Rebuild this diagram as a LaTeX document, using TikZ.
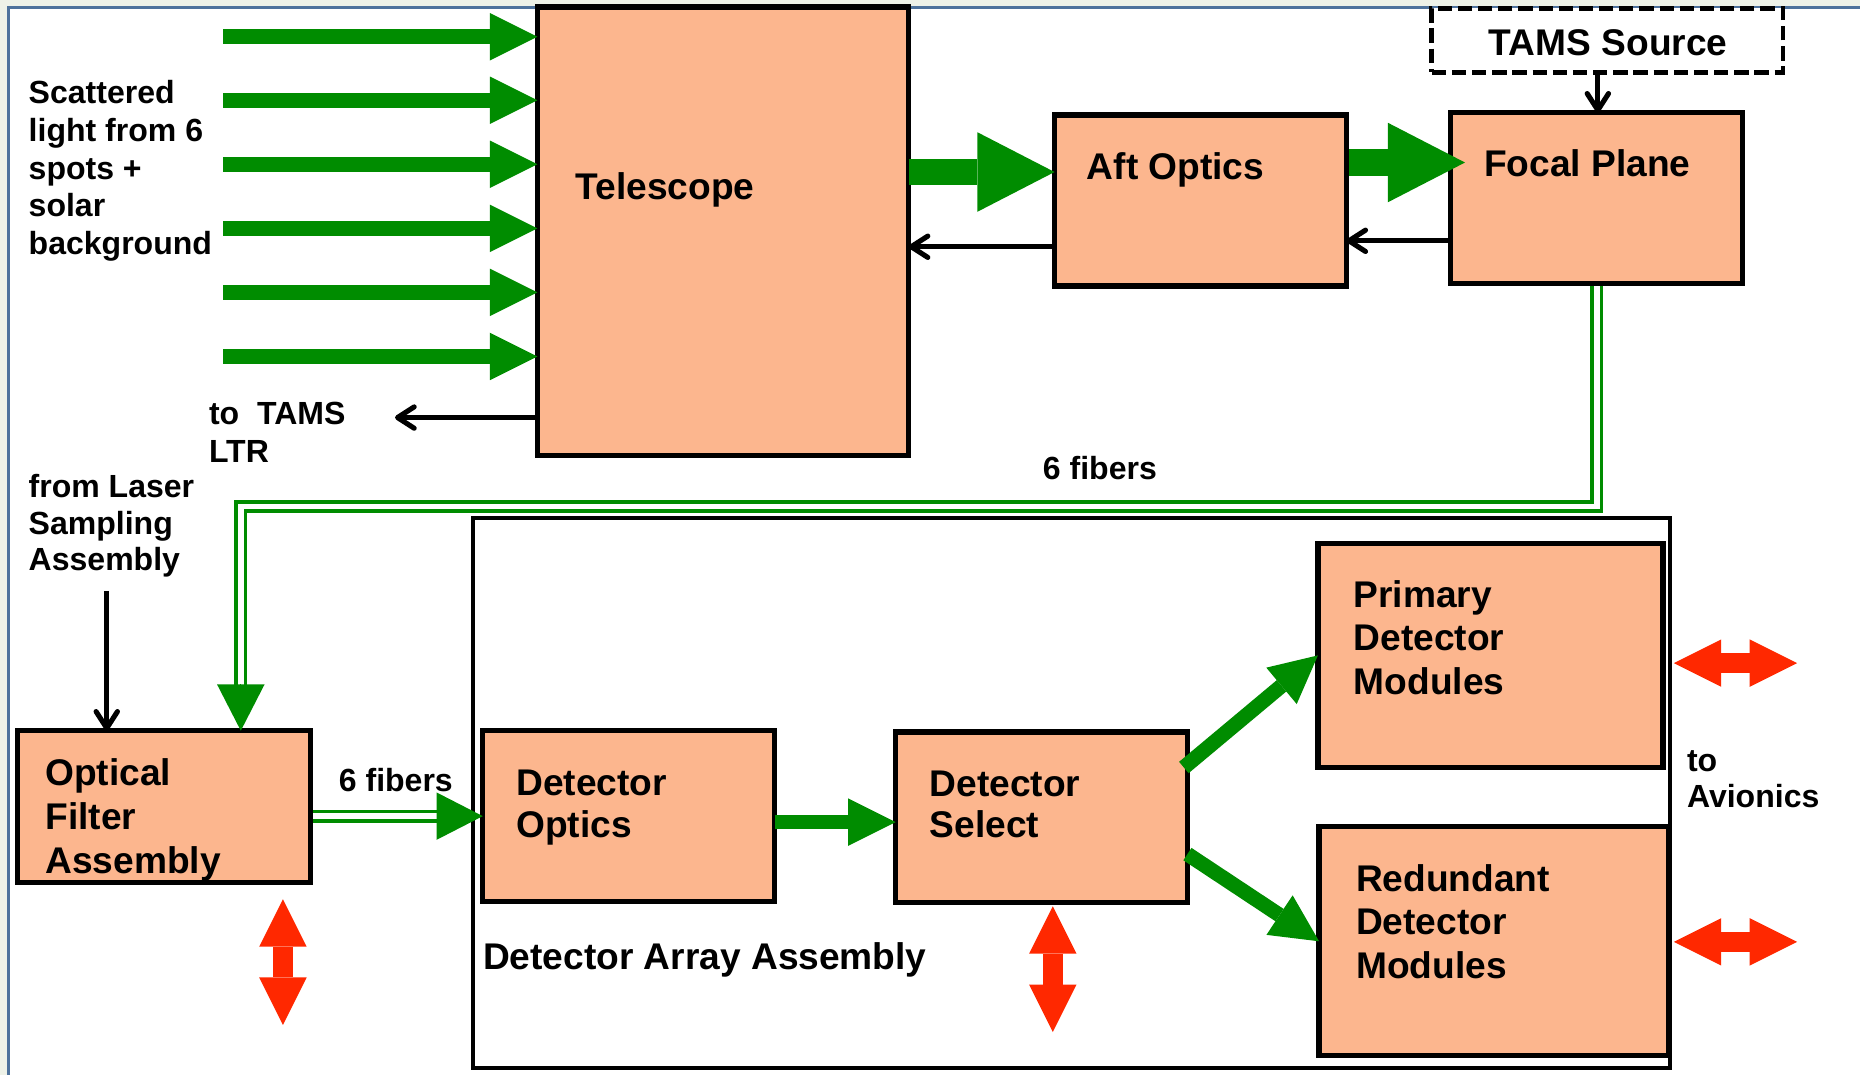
\documentclass[tikz,border=0pt]{standalone}
\usepackage{fontspec}
\setmainfont{Liberation Sans}
\usetikzlibrary{arrows.meta}
\definecolor{peach}{RGB}{252,182,142}
\definecolor{dgreen}{RGB}{0,140,0}
\definecolor{ared}{RGB}{255,40,0}
\definecolor{framebg}{RGB}{238,242,232}
\definecolor{frameline}{RGB}{78,114,156}
\begin{document}
\begin{tikzpicture}[x=1pt,y=-1pt,
  box/.style={draw=black, line width=4.5pt, fill=peach, inner sep=0pt, outer sep=0pt, anchor=north west},
  dashbox/.style={draw=black, line width=4pt, dash pattern=on 12pt off 5pt, fill=white, inner sep=0pt, outer sep=0pt, anchor=north west},
  areabox/.style={draw=black, line width=3.5pt, inner sep=0pt, outer sep=0pt, anchor=north west},
  boxtxt/.style={font=\bfseries\fontsize{31.3}{37}\selectfont, anchor=base west, inner sep=0pt},
  sidetxt/.style={font=\bfseries\fontsize{27}{32}\selectfont, anchor=base west, inner sep=0pt},
  ray/.style={draw=dgreen, line width=12.5pt, -{Triangle[length=40pt,width=40pt,line width=0pt]}},
  fatray/.style={draw=dgreen, line width=22pt, -{Triangle[length=65pt,width=67pt,line width=0pt]}},
  ghead/.style={draw=dgreen, line width=1pt, -{Triangle[length=39pt,width=40pt,line width=0pt]}},
  fiber/.style={draw=dgreen, line width=3pt, double=white, double distance=5pt},
  blackarr/.style={draw=black, line width=4.3pt, -{Straight Barb[length=14pt,width=18pt,round]}},
  redarr/.style={draw=ared, line width=16.5pt, {Triangle[length=40pt,width=40pt,line width=0pt]}-{Triangle[length=40pt,width=40pt,line width=0pt]}},
]
\useasboundingbox (0,0) rectangle (1568,906);
% frame
\fill[framebg] (0,0) rectangle (1568,906);
\fill[white] (7.5,6.5) rectangle (1568,906);
\draw[frameline, line width=2.5pt] (7.5,906) -- (7.5,6.5) -- (1568,6.5);

% boxes
\node[box, minimum width=313pt, minimum height=378pt] (tel) at (453,6) {};
\node[box, minimum width=246pt, minimum height=144pt] (aft) at (889,97) {};
\node[box, minimum width=246pt, minimum height=144pt] (foc) at (1223,95) {};
\node[dashbox, minimum width=296pt, minimum height=54pt] (tams) at (1207,7) {};
\node[areabox, minimum width=1009pt, minimum height=463pt] (daa) at (399,437) {};
\node[box, minimum width=247pt, minimum height=128pt] (ofa) at (15,616) {};
\node[box, minimum width=246pt, minimum height=144pt] (dop) at (407,616) {};
\node[box, minimum width=246pt, minimum height=144pt] (dsel) at (755,617) {};
\node[box, minimum width=291pt, minimum height=189pt] (prim) at (1111,458) {};
\node[box, minimum width=295pt, minimum height=193pt] (redu) at (1112,697) {};

% incoming light rays
\foreach \i/\yy in {1/31,2/84.5,3/138.5,4/192.5,5/246.5,6/300.5}{
  \coordinate (ray\i) at (188,\yy);
  \draw[ray] (ray\i) -- (ray\i -| tel.west);
}

% big green arrows
\coordinate (fa1) at ([yshift=24pt]aft.west);
\draw[fatray] (tel.east |- fa1) -- (fa1);
\coordinate (fa2) at ([xshift=12pt,yshift=30pt]foc.west);
\draw[fatray] ([xshift=2pt]aft.east |- fa2) -- (fa2);

% black arrows
\coordinate (bk1) at ([yshift=-39pt]aft.west);
\draw[blackarr] (bk1) -- (tel.east |- bk1);
\coordinate (bk2) at ([yshift=-36pt]foc.west);
\draw[blackarr] (bk2) -- (aft.east |- bk2);
\coordinate (bk3) at ([xshift=-8pt]tams.south);
\draw[blackarr] (bk3) -- (bk3 |- foc.north);
\coordinate (bk4) at ([yshift=-157pt]tel.west);
\coordinate (ltr) at (333,352);
\draw[blackarr] (bk4) -- (ltr);
\coordinate (laser) at (90,498);
\draw[blackarr] (laser) -- (laser |- ofa.north);

% fibers
\coordinate (fib1) at (203,427);
\coordinate (fib2) at (203,578);
\draw[fiber] ([yshift=-2.25pt]foc.south) -- (foc.south |- fib1) -- (fib1) -- (fib2);
\draw[ghead] (fib2) -- (fib2 |- ofa.north);
\coordinate (fib3) at ([xshift=2.25pt,yshift=-8pt]ofa.east);
\coordinate (fib4) at (369,688);
\draw[fiber] (fib3) -- (fib4);
\draw[ghead] (fib4) -- (fib4 -| dop.west);

% detector chain
\coordinate (g1) at ([yshift=-5pt]dop.east);
\draw[ray] (g1) -- (g1 -| dsel.west);
\draw[ray] ([xshift=-3pt,yshift=-30pt]dsel.north east) -- (prim.west);
\draw[ray] ([yshift=41pt]dsel.south east) -- (redu.west);

% red interface arrows
\coordinate (rd1) at (238.5,758); \coordinate (rd2) at (238.5,864);
\coordinate (rd3) at (887.5,764); \coordinate (rd4) at (887.5,870);
\coordinate (rd5) at (1411,559);  \coordinate (rd6) at (1515,559);
\coordinate (rd7) at (1411,794);  \coordinate (rd8) at (1515,794);
\draw[redarr] (rd1) -- (rd2);
\draw[redarr] (rd3) -- (rd4);
\draw[redarr] (rd5) -- (rd6);
\draw[redarr] (rd7) -- (rd8);

% texts
\node[boxtxt] (t-tel) at (485,168) {Telescope};
\node[boxtxt] (t-aft) at (916,151) {Aft Optics};
\node[boxtxt] (t-foc) at (1251,148.5) {Focal Plane};
\node[boxtxt] (t-tams) at (1255,46.5) {TAMS Source};

\node[sidetxt] (t-sc1) at (24,87.5) {Scattered};
\node[sidetxt] (t-sc2) at (24,119.3) {light from 6};
\node[sidetxt] (t-sc3) at (24,151.1) {spots +};
\node[sidetxt] (t-sc4) at (24,182.9) {solar};
\node[sidetxt] (t-sc5) at (24,214.7) {background};

\node[sidetxt] (t-ltr1) at (176,357.7) {to~ TAMS};
\node[sidetxt] (t-ltr2) at (176,390) {LTR};

\node[sidetxt] (t-las1) at (24,419) {from Laser};
\node[sidetxt] (t-las2) at (24,450.7) {Sampling};
\node[sidetxt] (t-las3) at (24,481) {Assembly};

\node[sidetxt] (t-fib1) at (879,404) {6 fibers};
\node[sidetxt] (t-fib2) at (285.5,667) {6 fibers};

\node[boxtxt] (t-ofa1) at (38,662) {Optical};
\node[boxtxt] (t-ofa2) at (38,699.6) {Filter};
\node[boxtxt] (t-ofa3) at (38,736.7) {Assembly};

\node[boxtxt] (t-dop1) at (435,670.5) {Detector};
\node[boxtxt] (t-dop2) at (435,706) {Optics};

\node[boxtxt] (t-dsel1) at (783.5,671.4) {Detector};
\node[boxtxt] (t-dsel2) at (783.5,706) {Select};

\node[boxtxt] (t-daa) at (407,817.7) {Detector Array Assembly};

\node[boxtxt] (t-prim1) at (1141,512) {Primary};
\node[boxtxt] (t-prim2) at (1141,548) {Detector};
\node[boxtxt] (t-prim3) at (1141,585.5) {Modules};

\node[boxtxt] (t-red1) at (1143,751.8) {Redundant};
\node[boxtxt] (t-red2) at (1143,788) {Detector};
\node[boxtxt] (t-red3) at (1143,825) {Modules};

\node[sidetxt] (t-av1) at (1422,650) {to};
\node[sidetxt] (t-av2) at (1422,681) {Avionics};
\end{tikzpicture}
\end{document}
